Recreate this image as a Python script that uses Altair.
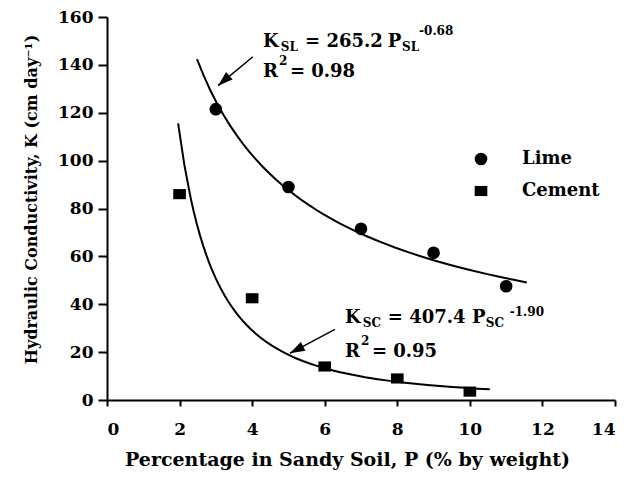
import altair as alt
import pandas as pd

FONT = "DejaVu Serif"

# ---- data ----
series = ["Lime", "Cement"]
P_lime = [3, 5, 7, 9, 11]
K_lime = [121.5, 89, 71.5, 61.5, 47.5]
P_cement = [2, 4, 6, 8, 10]
K_cement = [86, 42.5, 14, 9, 3.5]

x_ticks = [0, 2, 4, 6, 8, 10, 12, 14]
y_ticks = [0, 20, 40, 60, 80, 100, 120, 140, 160]

lime_extent = [2.48, 11.57]
cement_extent = [1.96, 10.55]

# annotation pieces (data coordinates)
ann_text = ["K", "SL", "= 265.2", "P", "SL", "-0.68", "R", "2", "= 0.98",
            "K", "SC", "= 407.4", "P", "SC", "-1.90", "R", "2", "= 0.95"]
ann_x = [4.30, 4.79, 5.46, 7.74, 8.13, 8.60, 4.30, 4.74, 5.04,
         6.56, 7.05, 7.74, 10.06, 10.44, 11.10, 6.56, 7.00, 7.30]
ann_y = [147.5, 145.9, 147.5, 147.5, 145.9, 152.5, 135.1, 140.1, 135.1,
         32.0, 30.3, 32.0, 32.0, 30.3, 35.3, 17.9, 22.9, 17.9]
ann_size = [18, 12, 18, 18, 12, 12, 18, 12, 18,
            18, 12, 18, 18, 12, 12, 18, 12, 18]

# arrows: tail -> tip (data coordinates), head angle in degrees
arrow_x = [4.02, 6.28]
arrow_y = [143.4, 29.5]
arrow_x2 = [3.06, 5.04]
arrow_y2 = [131.3, 19.5]
arrow_angle = [229, 242]

pts = pd.DataFrame({
    "P": P_lime + P_cement,
    "K": K_lime + K_cement,
    "Series": [series[0]] * len(P_lime) + [series[1]] * len(P_cement),
})
ann = pd.DataFrame({"x": ann_x, "y": ann_y, "t": ann_text, "s": ann_size})
arr = pd.DataFrame({"x": arrow_x, "y": arrow_y, "x2": arrow_x2, "y2": arrow_y2, "a": arrow_angle})

xscale = alt.Scale(domain=[0, 14], nice=False)
yscale = alt.Scale(domain=[0, 160], nice=False)

square_path = "M-1,-0.8L1,-0.8L1,0.8L-1,0.8Z"
head_path = "M0,0L-0.33,1L0.33,1Z"

xaxis = alt.Axis(values=x_ticks, title="Percentage in Sandy Soil, P (% by weight)",
                 tickSize=6, labelPadding=15, titlePadding=13, titleX=240, titleFontSize=19,
                 format="d")
yaxis = alt.Axis(values=y_ticks, title="Hydraulic Conductivity, K (cm day⁻¹)",
                 tickSize=9, labelPadding=5, titlePadding=18, titleY=182, titleFontSize=16,
                 format="d")

points = alt.Chart(pts).mark_point(filled=True, opacity=1, color="black", size=160).encode(
    x=alt.X("P:Q", scale=xscale, axis=xaxis),
    y=alt.Y("K:Q", scale=yscale, axis=yaxis),
    shape=alt.Shape("Series:N", scale=alt.Scale(domain=series, range=["circle", square_path]),
                    legend=alt.Legend(title=None, orient="none", legendX=365, legendY=133,
                                      labelOffset=32, rowPadding=14, symbolSize=160,
                                      symbolFillColor="black", symbolStrokeWidth=0,
                                      labelFont=FONT, labelFontSize=18, labelFontWeight="bold",
                                      labelColor="black")),
)

lime_fit = alt.Chart(pts).transform_filter(alt.datum.Series == series[0]).transform_regression(
    "P", "K", method="pow", extent=lime_extent
).mark_line(color="black", strokeWidth=2).encode(x=alt.X("P:Q", scale=xscale), y=alt.Y("K:Q", scale=yscale))

cement_fit = alt.Chart(pts).transform_filter(alt.datum.Series == series[1]).transform_regression(
    "P", "K", method="pow", extent=cement_extent
).mark_line(color="black", strokeWidth=2).encode(x=alt.X("P:Q", scale=xscale), y=alt.Y("K:Q", scale=yscale))

texts = alt.Chart(ann).mark_text(align="left", baseline="alphabetic", font=FONT,
                                 fontWeight="bold", color="black").encode(
    x=alt.X("x:Q", scale=xscale), y=alt.Y("y:Q", scale=yscale),
    text="t:N", size=alt.Size("s:Q", scale=None, legend=None),
)

arrow_lines = alt.Chart(arr).mark_rule(color="black", strokeWidth=1.5).encode(
    x=alt.X("x:Q", scale=xscale), y=alt.Y("y:Q", scale=yscale), x2="x2:Q", y2="y2:Q",
)
arrow_heads = alt.Chart(arr).mark_point(shape=head_path, filled=True, opacity=1, color="black",
                                        size=900).encode(
    x=alt.X("x2:Q", scale=xscale), y=alt.Y("y2:Q", scale=yscale),
    angle=alt.Angle("a:Q", scale=None),
)

chart = alt.layer(lime_fit, cement_fit, arrow_lines, arrow_heads, points, texts).properties(
    width=508, height=383,
    autosize=alt.AutoSizeParams(type="none"),
    padding={"left": 99, "top": 9, "right": 18, "bottom": 72},
    background="white",
).configure_view(stroke=None).configure_axis(
    grid=False, domainColor="black", domainWidth=2, tickColor="black", tickWidth=2,
    labelFont=FONT, labelFontSize=17, labelFontWeight="bold", labelColor="black",
    titleFont=FONT, titleFontWeight="bold", titleColor="black",
)

chart.save("out.html", embed_options={"renderer": "svg", "actions": False})
